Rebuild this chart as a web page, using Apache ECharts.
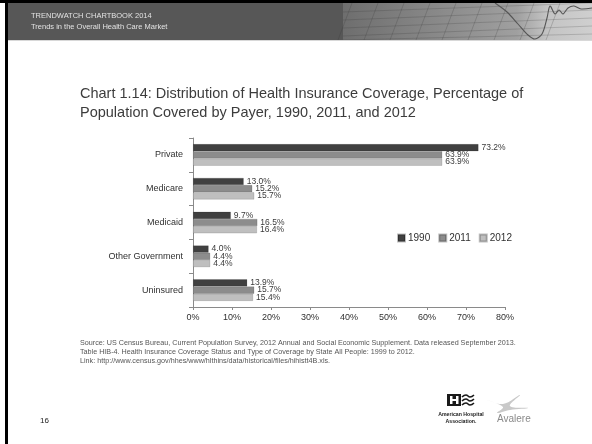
<!DOCTYPE html>
<html>
<head>
<meta charset="utf-8">
<title>Distribution of Health Insurance Coverage</title>
<script src="https://cdn.jsdelivr.net/npm/echarts@6/dist/echarts.min.js"></script>
<style>
  html, body { margin: 0; padding: 0; background: #ffffff; }
  #chart { width: 592px; height: 444px; }
</style>
</head>
<body>
<div id="chart"></div>
<script>
// Payer categories, top to bottom
const payers = ['Private', 'Medicare', 'Medicaid', 'Other Government', 'Uninsured'];
// Share of population covered (%)
const years = ['1990', '2011', '2012'];
const cov1990 = [73.2, 13.0, 9.7, 4.0, 13.9];
const cov2011 = [63.9, 15.2, 16.5, 4.4, 15.7];
const cov2012 = [63.9, 15.7, 16.4, 4.4, 15.4];
const xTicks = [0, 10, 20, 30, 40, 50, 60, 70, 80];

const seriesValues = [cov1990, cov2011, cov2012];
const barColors = ['#404040', '#8c8c8c', '#bfbfbf'];
const FONT = '"Liberation Sans", Arial, sans-serif';

const chart = echarts.init(document.getElementById('chart'), null, { renderer: 'canvas' });

// Banner artwork: perspective grid and a trace line on the right of the header
const gridLines = [];
for (let i = 0; i < 9; i++) {
  const x0 = 352 + i * 26;
  gridLines.push({ type: 'line', shape: { x1: x0, y1: 3, x2: x0 - 14, y2: 40 },
    style: { stroke: 'rgba(50,50,50,0.28)', lineWidth: 0.8 }, silent: true });
}
for (let j = 0; j < 5; j++) {
  const y0 = 8 + j * 8;
  gridLines.push({ type: 'line', shape: { x1: 343, y1: Math.min(40, y0 + 4), x2: 592, y2: Math.max(3, y0 - 6) },
    style: { stroke: 'rgba(50,50,50,0.25)', lineWidth: 0.8 }, silent: true });
}

const option = {
  backgroundColor: '#ffffff',
  animation: false,
  textStyle: { fontFamily: FONT },
  title: {
    text: 'Chart 1.14: Distribution of Health Insurance Coverage, Percentage of\nPopulation Covered by Payer, 1990, 2011, and 2012',
    left: 80,
    top: 85,
    padding: 0,
    textStyle: { fontFamily: FONT, fontSize: 14.5, fontWeight: 'normal', color: '#3c3c3c', lineHeight: 18.5 }
  },
  legend: {
    data: years,
    left: 392,
    top: 228,
    itemWidth: 7,
    itemHeight: 7,
    itemGap: 8,
    icon: 'rect',
    textStyle: { fontFamily: FONT, fontSize: 10, color: '#303030', padding: [0, 0, 0, -2] }
  },
  grid: { left: 193, right: 87, top: 138, bottom: 137, containLabel: false },
  xAxis: {
    type: 'value',
    min: xTicks[0],
    max: xTicks[xTicks.length - 1],
    interval: 10,
    axisLine: { show: true, lineStyle: { color: '#8a8a8a', width: 1 } },
    axisTick: { show: true, length: 3, lineStyle: { color: '#8a8a8a' } },
    splitLine: { show: false },
    axisLabel: { formatter: v => v + '%', fontSize: 9, color: '#303030', margin: 6, fontFamily: FONT }
  },
  yAxis: {
    type: 'category',
    data: payers,
    inverse: true,
    axisLine: { show: true, lineStyle: { color: '#8a8a8a', width: 1 } },
    axisTick: { show: true, length: 4, lineStyle: { color: '#8a8a8a' } },
    axisLabel: { fontSize: 9, color: '#303030', margin: 10, fontFamily: FONT }
  },
  series: years.map((y, i) => ({
    name: y,
    type: 'bar',
    data: seriesValues[i],
    barGap: '0%',
    barCategoryGap: '36%',
    itemStyle: { color: barColors[i], borderColor: 'rgba(0,0,0,0.25)', borderWidth: 0.5 },
    label: {
      show: true,
      position: 'right',
      distance: 3,
      fontSize: 8.5,
      color: '#3a3a3a',
      fontFamily: FONT,
      formatter: p => p.value.toFixed(1) + '%'
    }
  })),
  graphic: [
    // page frame
    { type: 'rect', shape: { x: 0, y: 0, width: 592, height: 3 }, style: { fill: '#000' }, silent: true, z: 10 },
    { type: 'rect', shape: { x: 5, y: 0, width: 3, height: 444 }, style: { fill: '#000' }, silent: true, z: 10 },
    // header band
    { type: 'rect', shape: { x: 8, y: 3, width: 335, height: 37 }, style: { fill: '#575757' }, silent: true },
    { type: 'rect', shape: { x: 343, y: 3, width: 249, height: 37 },
      style: { fill: new echarts.graphic.LinearGradient(0, 0, 1, 0, [
        { offset: 0, color: '#6e6e6e' }, { offset: 0.45, color: '#8e8e8e' },
        { offset: 0.7, color: '#a0a0a0' }, { offset: 0.82, color: '#c4c4c4' }, { offset: 1, color: '#cfcfcf' }]) },
      silent: true },
    ...gridLines,
    { type: 'polyline', shape: { points: [[495, 3], [507, 12], [518, 24], [528, 35], [535, 39], [542, 34], [547, 18], [550, 6],
        [555, 14], [559, 10], [563, 14], [568, 8], [574, 6], [581, 9], [592, 8]], smooth: 0.3 },
      style: { stroke: '#555', lineWidth: 1.1, fill: null }, silent: true },
    { type: 'rect', shape: { x: 8, y: 40, width: 584, height: 1 }, style: { fill: '#d8d8d8' }, silent: true },
    { type: 'text', left: 31, top: 12, style: { text: 'TRENDWATCH CHARTBOOK 2014', fill: '#e2e2e2', font: '7.5px "Liberation Sans", Arial, sans-serif' }, silent: true },
    { type: 'text', left: 31, top: 23, style: { text: 'Trends in the Overall Health Care Market', fill: '#e2e2e2', font: '7.5px "Liberation Sans", Arial, sans-serif' }, silent: true },
    // source note
    { type: 'text', left: 80, top: 339, style: {
        text: 'Source: US Census Bureau, Current Population Survey, 2012 Annual and Social Economic Supplement. Data released September 2013.\nTable HIB-4. Health Insurance Coverage Status and Type of Coverage by State All People: 1999 to 2012.\nLink: http://www.census.gov/hhes/www/hlthins/data/historical/files/hihistt4B.xls.',
        fill: '#555', font: '7.2px "Liberation Sans", Arial, sans-serif', lineHeight: 8.8 }, silent: true },
    // AHA mark
    { type: 'rect', shape: { x: 447, y: 394, width: 14, height: 12 }, style: { fill: '#1a1a1a' }, silent: true },
    { type: 'rect', shape: { x: 450, y: 396, width: 2.5, height: 8 }, style: { fill: '#fff' }, silent: true },
    { type: 'rect', shape: { x: 456, y: 396, width: 2.5, height: 8 }, style: { fill: '#fff' }, silent: true },
    { type: 'rect', shape: { x: 450, y: 399, width: 8, height: 2 }, style: { fill: '#fff' }, silent: true },
    { type: 'polyline', shape: { points: [[462, 397], [466, 395], [470, 397], [474, 395]], smooth: 0.5 }, style: { stroke: '#1a1a1a', lineWidth: 1.6, fill: null }, silent: true },
    { type: 'polyline', shape: { points: [[462, 401], [466, 399], [470, 401], [474, 399]], smooth: 0.5 }, style: { stroke: '#1a1a1a', lineWidth: 1.6, fill: null }, silent: true },
    { type: 'polyline', shape: { points: [[462, 405], [466, 403], [470, 405], [474, 403]], smooth: 0.5 }, style: { stroke: '#1a1a1a', lineWidth: 1.6, fill: null }, silent: true },
    { type: 'text', x: 461, y: 411, style: { text: 'American Hospital\nAssociation.', fill: '#222', font: 'bold 5.2px "Liberation Sans", Arial, sans-serif', align: 'center', verticalAlign: 'top', lineHeight: 6.8 }, silent: true },
    // Avalere mark
    { type: 'polygon', shape: { points: [[487, 400], [503, 404], [520, 395], [510, 406], [528, 408], [510, 410], [497, 413], [503, 407]], smooth: 0.4 },
      style: { fill: '#c9c9c9' }, silent: true },
    { type: 'text', left: 497, top: 414, style: { text: 'Avalere', fill: '#8a8a8a', font: '10px "Liberation Sans", Arial, sans-serif' }, silent: true },
    // page number
    { type: 'text', left: 40, top: 417, style: { text: '16', fill: '#222', font: '8px "Liberation Sans", Arial, sans-serif' }, silent: true }
  ]
};

chart.setOption(option);
</script>
</body>
</html>
